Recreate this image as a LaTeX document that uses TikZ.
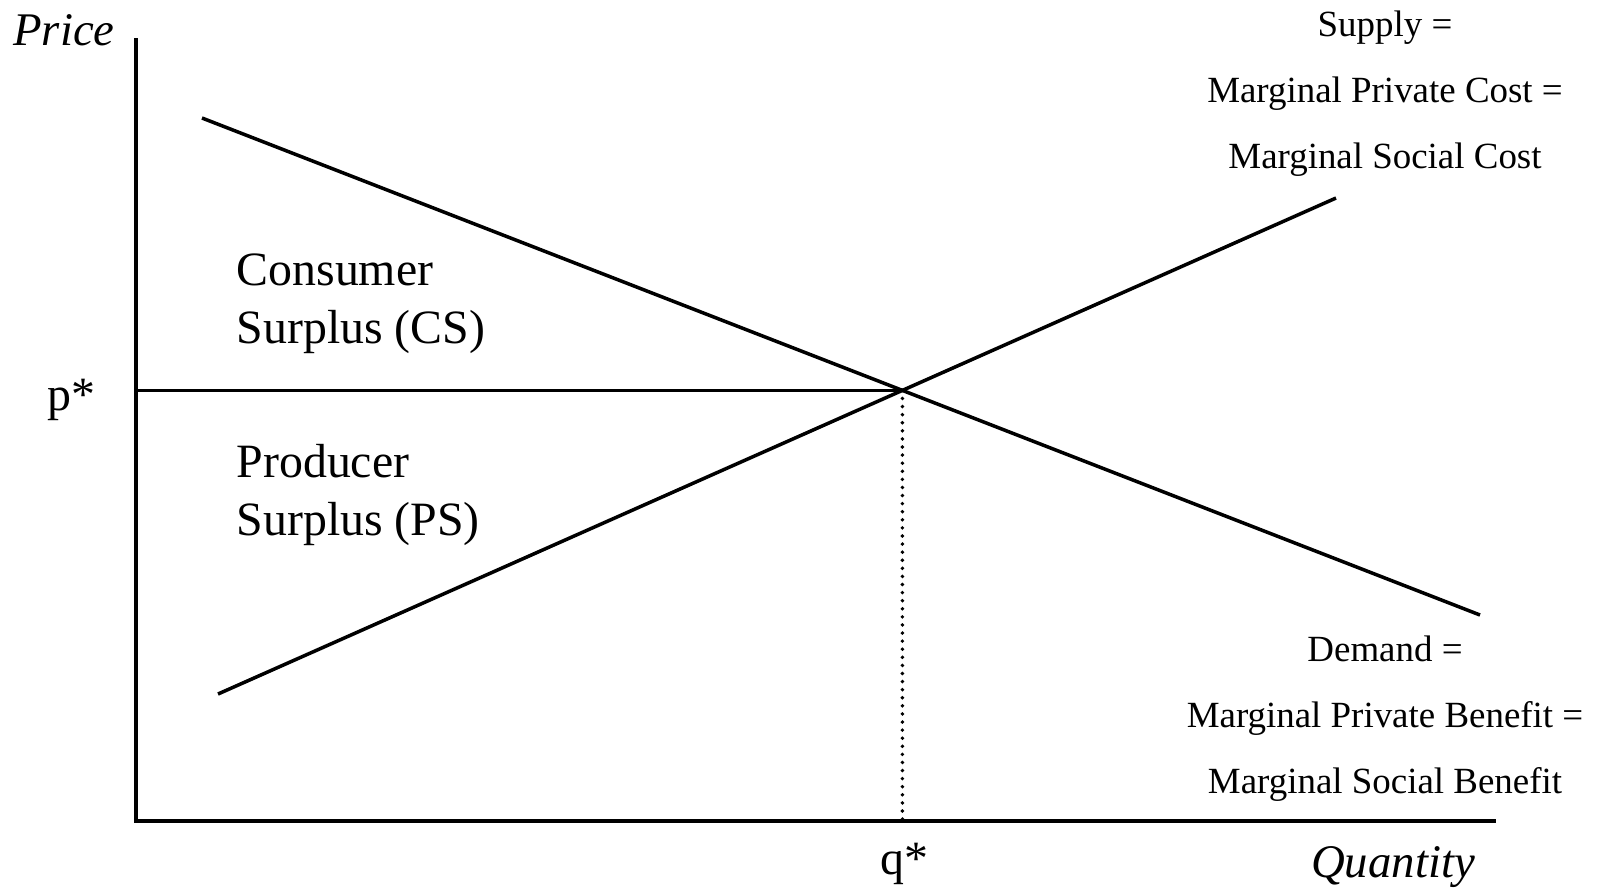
\documentclass[tikz,border=0pt]{standalone}
\usepackage{fontspec}
\setmainfont{Liberation Serif}
\tikzset{
  curve/.style={line width=1pt},
  lbl/.style={inner sep=0pt,anchor=base},
  note/.style={lbl,font=\fontsize{10.5}{12}\selectfont},
  surplus/.style={inner sep=0pt,anchor=base west}
}
\begin{document}
\begin{tikzpicture}[x=0.01cm,y=-0.01cm,font=\fontsize{13.6}{16}\selectfont]
\useasboundingbox (0,0) rectangle (1598,890);
% axes
\coordinate (O) at (136,821);
\coordinate (ytop) at (136,38);
\coordinate (xend) at (1496,821);
\draw[line width=1.2pt] (ytop)--(O)--(xend);
% demand and supply
\coordinate (d1) at (202,118);
\coordinate (d2) at (1480,615);
\coordinate (s1) at (218,694);
\coordinate (s2) at (1336,198);
\draw[curve] (d1)--(d2);
\draw[curve] (s1)--(s2);
\coordinate (eq) at (intersection of d1--d2 and s1--s2);
\draw[curve] (eq)--(eq -| O);
\draw[line width=1.1pt,line cap=round,dash pattern=on 0pt off 2.3pt] (eq)--(eq |- O);
% axis labels
\node[lbl,font=\fontsize{13.3}{16}\selectfont\itshape] (price) at (64,45) {Price};
\node[lbl,font=\fontsize{13.3}{16}\selectfont\itshape] (quantity) at (1393,877) {Quantity};
\node[lbl] (pstar) at (71,410) {p*};
\node[lbl] (qstar) at (904,874) {q*};
% surplus areas
\node[surplus] (cs1) at (236,285) {Consumer};
\node[surplus] (cs2) at (236,343) {Surplus (CS)};
\node[surplus] (ps1) at (236,477) {Producer};
\node[surplus] (ps2) at (236,535) {Surplus (PS)};
% curve names
\foreach \i/\y/\txt in {1/36/{Supply =},2/102/{Marginal Private Cost =},3/168/{Marginal Social Cost}}
  \node[note] (sup\i) at (1385,\y) {\txt};
\foreach \i/\y/\txt in {1/661/{Demand =},2/727/{Marginal Private Benefit =},3/793/{Marginal Social Benefit}}
  \node[note] (dem\i) at (1385,\y) {\txt};
\end{tikzpicture}
\end{document}
